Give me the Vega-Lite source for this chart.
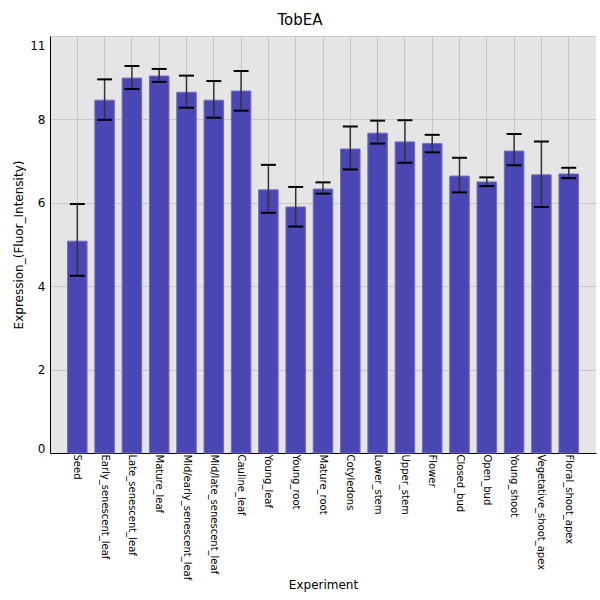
{
  "$schema": "https://vega.github.io/schema/vega-lite/v6.json",
  "autosize": "none",
  "width": 546,
  "height": 417,
  "padding": {"left": 50, "top": 36, "right": 4, "bottom": 147},
  "background": "white",
  "title": {"text": "TobEA", "fontSize": 15, "font": "DejaVu Sans", "fontWeight": "normal", "offset": 8, "dx": -23, "color": "black"},
  "config": {
    "view": {"fill": "#e5e5e5", "stroke": null},
    "font": "DejaVu Sans",
    "axis": {"gridColor": "#c8c8c8", "gridWidth": 1, "domainColor": "black", "labelColor": "black", "titleColor": "black", "titleFontWeight": "normal", "ticks": false}
  },
  "data": {"values": [
    {"Experiment": "Seed", "value": 5.08, "lo": 4.25, "hi": 5.97},
    {"Experiment": "Early_senescent_leaf", "value": 8.46, "lo": 7.99, "hi": 8.96},
    {"Experiment": "Late_senescent_leaf", "value": 8.99, "lo": 8.73, "hi": 9.28},
    {"Experiment": "Mature_leaf", "value": 9.04, "lo": 8.9, "hi": 9.21},
    {"Experiment": "Mid/early_senescent_leaf", "value": 8.65, "lo": 8.28, "hi": 9.05},
    {"Experiment": "Mid/late_senescent_leaf", "value": 8.46, "lo": 8.04, "hi": 8.92},
    {"Experiment": "Cauline_leaf", "value": 8.68, "lo": 8.21, "hi": 9.16},
    {"Experiment": "Young_leaf", "value": 6.31, "lo": 5.76, "hi": 6.91},
    {"Experiment": "Young_root", "value": 5.9, "lo": 5.43, "hi": 6.38},
    {"Experiment": "Mature_root", "value": 6.33, "lo": 6.22, "hi": 6.49},
    {"Experiment": "Cotyledons", "value": 7.29, "lo": 6.8, "hi": 7.83},
    {"Experiment": "Lower_stem", "value": 7.67, "lo": 7.42, "hi": 7.97},
    {"Experiment": "Upper_stem", "value": 7.46, "lo": 6.96, "hi": 7.98},
    {"Experiment": "Flower", "value": 7.42, "lo": 7.21, "hi": 7.63},
    {"Experiment": "Closed_bud", "value": 6.64, "lo": 6.25, "hi": 7.08},
    {"Experiment": "Open_bud", "value": 6.5, "lo": 6.4, "hi": 6.61},
    {"Experiment": "Young_shoot", "value": 7.24, "lo": 6.9, "hi": 7.65},
    {"Experiment": "Vegetative_shoot_apex", "value": 6.67, "lo": 5.9, "hi": 7.47},
    {"Experiment": "Floral_shoot_apex", "value": 6.69, "lo": 6.59, "hi": 6.84}
  ]},
  "encoding": {
    "x": {
      "field": "Experiment", "type": "nominal", "sort": null,
      "scale": {"paddingInner": 0.285, "paddingOuter": 0.6425},
      "axis": {"title": "Experiment", "titleFontSize": 12, "titlePadding": 0, "labelAngle": 90, "labelFontSize": 10, "labelPadding": 1, "bandPosition": 0.5, "grid": true, "labelLimit": 200}
    }
  },
  "layer": [
    {
      "mark": {"type": "bar", "fill": "#4a46b4", "stroke": "#716dc4", "strokeWidth": 1},
      "encoding": {
        "y": {
          "field": "value", "type": "quantitative",
          "scale": {"domain": [0, 10], "nice": false, "zero": true},
          "axis": {
            "title": "Expression_(Fluor_Intensity)", "titleFontSize": 12, "titlePadding": 4,
            "labelFontSize": 12, "labelPadding": 5,
            "values": [0, 2, 4, 6, 8, 9.78, 10],
            "labelExpr": "datum.value == 10 ? '' : (datum.value > 9 ? '11' : datum.label)",
            "labelOffset": {"condition": {"test": "datum.value == 0", "value": -5}, "value": 0},
            "gridOpacity": {"condition": {"test": "datum.value > 9.5 && datum.value < 9.9", "value": 0}, "value": 1}
          }
        }
      }
    },
    {
      "mark": {"type": "rule", "stroke": "#333333", "strokeWidth": 1.5},
      "encoding": {
        "y": {"field": "lo", "type": "quantitative"},
        "y2": {"field": "hi"}
      }
    },
    {
      "mark": {"type": "tick", "color": "black", "thickness": 2, "size": 15, "opacity": 1},
      "encoding": {"y": {"field": "hi", "type": "quantitative"}}
    },
    {
      "mark": {"type": "tick", "color": "black", "thickness": 2, "size": 15, "opacity": 1},
      "encoding": {"y": {"field": "lo", "type": "quantitative"}}
    }
  ]
}
